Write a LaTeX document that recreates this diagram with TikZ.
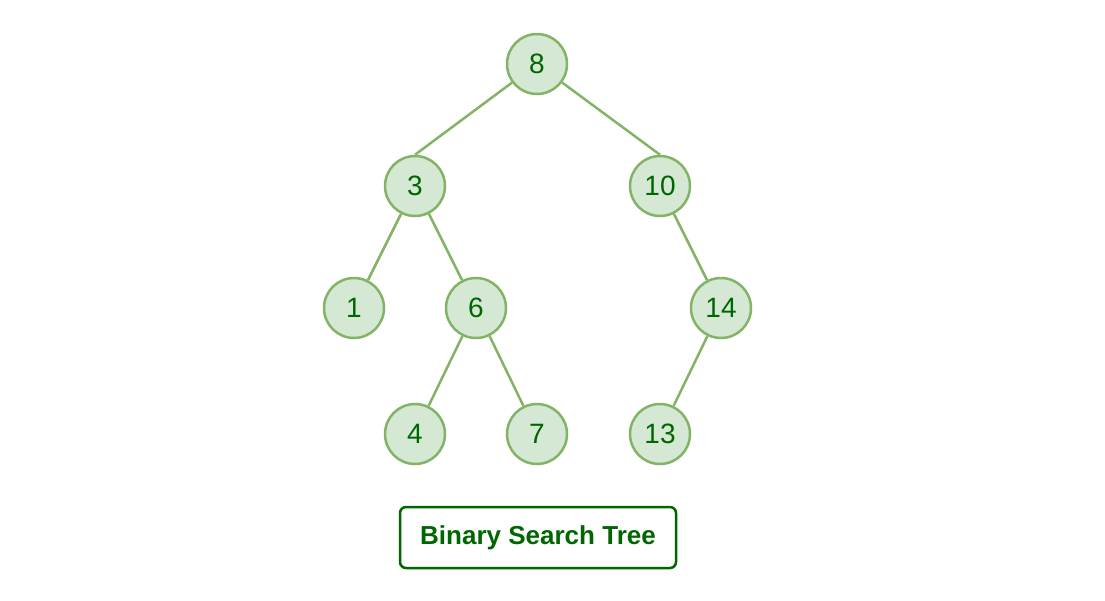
\documentclass[tikz,border=0pt]{standalone}
\usepackage{fontspec}
\setmainfont{Liberation Sans}
\definecolor{nfill}{HTML}{D5E8D4}
\definecolor{nline}{HTML}{82B366}
\definecolor{ntext}{HTML}{006600}
\begin{document}
\begin{tikzpicture}[x=1pt,y=-1pt,
  bst/.style={circle,draw=nline,fill=nfill,line width=2.5pt,minimum size=60pt,inner sep=0pt,text=ntext,font=\fontsize{28}{32}\selectfont},
  edge/.style={draw=nline,line width=2.5pt}]
\useasboundingbox (0,0) rectangle (1105,600);
\node[bst] (n8) at (537,64) {8};
\node[bst] (n3) at (415,186) {3};
\node[bst] (n10) at (660,186) {10};
\node[bst] (n1) at (354,308) {1};
\node[bst] (n6) at (476,308) {6};
\node[bst] (n14) at (721,308) {14};
\node[bst] (n4) at (415,434) {4};
\node[bst] (n7) at (537,434) {7};
\node[bst] (n13) at (660,434) {13};
\draw[edge] (n8)--(n3.north); \draw[edge] (n8)--(n10.north);
\draw[edge] (n3)--(n1); \draw[edge] (n3)--(n6);
\draw[edge] (n6)--(n4); \draw[edge] (n6)--(n7);
\draw[edge] (n10)--(n14); \draw[edge] (n14)--(n13);
\node[draw=ntext,line width=2.5pt,rounded corners=6pt,minimum width=276pt,minimum height=61pt,text=ntext,font=\fontsize{26}{30}\selectfont\bfseries] (cap) at (538,537.5) {Binary Search Tree};
\end{tikzpicture}
\end{document}
